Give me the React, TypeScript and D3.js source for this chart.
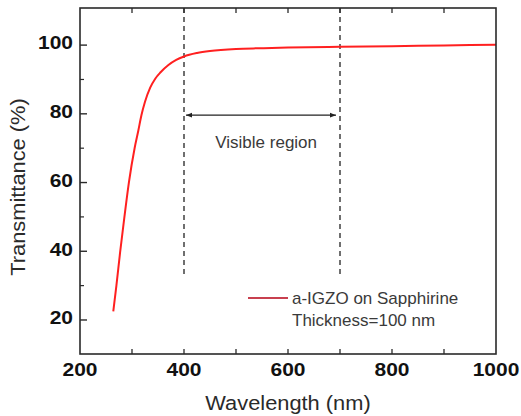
import React from "react";
import * as d3 from "d3";

// Transmittance spectrum of a-IGZO film on sapphirine substrate
const wavelengths = [264, 270, 277, 285, 294, 305, 312, 318, 325, 335, 345, 355, 370, 385, 400, 425, 450, 500, 550, 600, 700, 800, 900, 1000];
const transmittance = [22.5, 30, 39.5, 49.5, 60, 70, 75, 79.5, 83.5, 87.6, 90.3, 92.1, 94.2, 95.7, 96.7, 97.7, 98.3, 98.9, 99.1, 99.3, 99.5, 99.7, 99.9, 100.1];

const xMajorTicks = [200, 400, 600, 800, 1000];
const xMinorTicks = [300, 500, 700, 900];
const yMajorTicks = [20, 40, 60, 80, 100];
const yMinorTicks = [30, 50, 70, 90];

const visibleBounds = [400, 700];
const visibleLabel = "Visible region";
const legendLines = ["a-IGZO on Sapphirine", "Thickness=100 nm"];
const xTitle = "Wavelength (nm)";
const yTitle = "Transmittance (%)";

const W = 521;
const H = 416;
const left = 80;
const right = 496;
const top = 8;
const bottom = 354;

export default function App() {
  const x = d3.scaleLinear().domain([200, 1000]).range([left, right]);
  const y = d3.scaleLinear().domain([10.1, 110.8]).range([bottom, top]);

  const pts: [number, number][] = wavelengths.map((w, i) => [w, transmittance[i]]);
  const line = d3
    .line<[number, number]>()
    .x((d) => x(d[0]))
    .y((d) => y(d[1]))
    .curve(d3.curveMonotoneX);

  const font = "'Liberation Sans', Arial, sans-serif";
  const axisColor = "#2a2a2a";
  const arrowY = y(79.6);
  const dashEnd = y(33);

  return (
    <div style={{ position: "absolute", left: 0, top: 0 }}>
      <svg width={W} height={H} style={{ display: "block", background: "#fff" }}>
        <defs>
          <marker id="ah" viewBox="0 0 10 10" refX="10" refY="5" markerWidth="8" markerHeight="6" orient="auto-start-reverse" markerUnits="userSpaceOnUse">
            <path d="M0,1 L10,5 L0,9 Z" fill="#222" />
          </marker>
        </defs>

        {/* dashed bounds of visible range */}
        {visibleBounds.map((v) => (
          <line key={v} x1={x(v)} x2={x(v)} y1={top} y2={dashEnd} stroke="#333" strokeWidth={1.4} strokeDasharray="5,4" />
        ))}

        {/* double-headed arrow */}
        <line
          x1={x(visibleBounds[0]) + 2}
          x2={x(visibleBounds[1]) - 4}
          y1={arrowY}
          y2={arrowY}
          stroke="#222"
          strokeWidth={1.3}
          markerStart="url(#ah)"
          markerEnd="url(#ah)"
        />
        <text x={x(558)} y={y(71.8)} textAnchor="middle" dominantBaseline="central" fontFamily={font} fontSize={17} fill="#3a3a3a">
          {visibleLabel}
        </text>

        {/* spectrum */}
        <path d={line(pts) || ""} fill="none" stroke="#ff2020" strokeWidth={2} />

        {/* frame */}
        <rect x={left} y={top} width={right - left} height={bottom - top} fill="none" stroke={axisColor} strokeWidth={1.6} />

        {/* y ticks */}
        {yMajorTicks.map((t) => (
          <g key={"ym" + t}>
            <line x1={left} x2={left + 7} y1={y(t)} y2={y(t)} stroke={axisColor} strokeWidth={1.4} />
            <text
              transform={`translate(${left - 7},${y(t) - 1.5}) scale(1.2,1)`}
              textAnchor="end"
              dominantBaseline="central"
              fontFamily={font}
              fontWeight="bold"
              fontSize={17.5}
              fill="#111"
            >
              {t}
            </text>
          </g>
        ))}
        {yMinorTicks.map((t) => (
          <line key={"yn" + t} x1={left} x2={left + 4} y1={y(t)} y2={y(t)} stroke={axisColor} strokeWidth={1.2} />
        ))}

        {/* x ticks */}
        {[...xMajorTicks, ...xMinorTicks]
          .filter((t) => t > 200 && t < 1000)
          .map((t) => (
            <g key={"xt" + t}>
              <line x1={x(t)} x2={x(t)} y1={bottom} y2={bottom - 5} stroke={axisColor} strokeWidth={1.3} />
              <line x1={x(t)} x2={x(t)} y1={top} y2={top + 5} stroke={axisColor} strokeWidth={1.3} />
            </g>
          ))}
        {xMajorTicks.map((t) => (
          <text
            key={"xl" + t}
            transform={`translate(${x(t)},${370.5}) scale(1.2,1)`}
            textAnchor="middle"
            dominantBaseline="central"
            fontFamily={font}
            fontWeight="bold"
            fontSize={17.5}
            fill="#111"
          >
            {t}
          </text>
        ))}

        {/* axis titles */}
        <text
          transform={`translate(${(left + right) / 2},${403}) scale(1.12,1)`}
          textAnchor="middle"
          dominantBaseline="central"
          fontFamily={font}
          fontSize={19.5}
          fill="#2a2a2a"
        >
          {xTitle}
        </text>
        <text
          transform={`translate(${18},${(top + bottom) / 2 + 6}) rotate(-90) scale(1.12,1)`}
          textAnchor="middle"
          dominantBaseline="central"
          fontFamily={font}
          fontSize={19.5}
          fill="#2a2a2a"
        >
          {yTitle}
        </text>

        {/* legend */}
        <line x1={248} x2={288} y1={298} y2={298} stroke="#c8404f" strokeWidth={2} />
        {legendLines.map((s, i) => (
          <text key={s} x={292} y={298 + i * 22} dominantBaseline="central" fontFamily={font} fontSize={17} fill="#3a3a3a">
            {s}
          </text>
        ))}
      </svg>
    </div>
  );
}
